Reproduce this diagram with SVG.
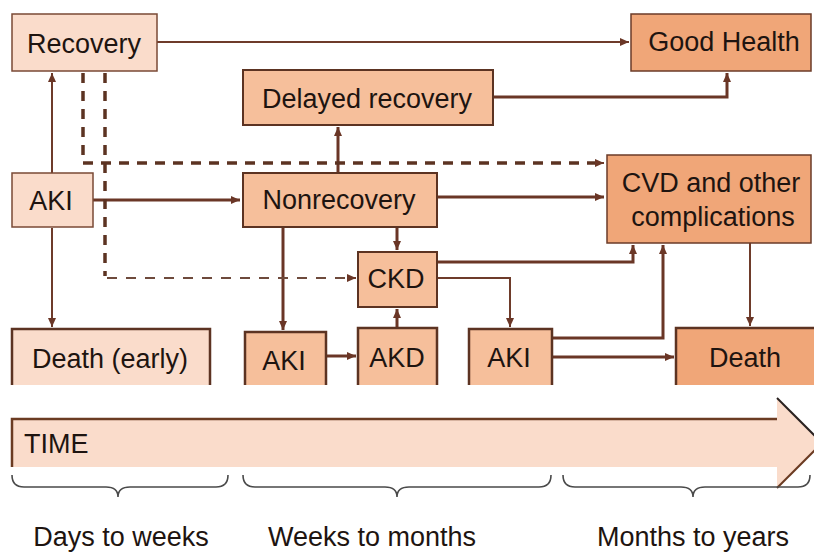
<svg xmlns="http://www.w3.org/2000/svg" width="814" height="552" viewBox="0 0 814 552">
<style>
  text { font-family: "Liberation Sans", Arial, sans-serif; font-size: 27px; fill: #1e1410; text-anchor: middle; }
  .light { fill: #fadccb; stroke: #7a4a36; stroke-width: 1.5; }
  .mid { fill: #f6bf9b; stroke: #5c3322; stroke-width: 2; }
  .dark { fill: #f0a678; stroke: #6b3b28; stroke-width: 1.5; }
  .fillonly { stroke: none; }
  .edge { fill: none; stroke: #5c3322; stroke-width: 2.5; }
  .c { fill: none; stroke: #6e3b2a; stroke-width: 2; }
  .c3 { fill: none; stroke: #6a3626; stroke-width: 3; }
  .dash { fill: none; stroke: #5c3322; stroke-width: 3.5; stroke-dasharray: 10 8; }
  .dashthin { fill: none; stroke: #6e4a3c; stroke-width: 2; stroke-dasharray: 10 9; }
  .brace { fill: none; stroke: #4a4a4a; stroke-width: 1.6; }
</style>
<defs>
  <marker id="ah" markerUnits="userSpaceOnUse" markerWidth="10" markerHeight="10" refX="9" refY="5" orient="auto">
    <path d="M0,1 L9,5 L0,9 Z" fill="#6a3626"/>
  </marker>
</defs>
<rect width="814" height="552" fill="#ffffff"/>

<g id="connectors">
  <path class="c" d="M157,42 H629" marker-end="url(#ah)"/>
  <path class="c" d="M52,173 V73" marker-end="url(#ah)"/>
  <path class="c" d="M52,228 V327" marker-end="url(#ah)"/>
  <path class="c3" d="M93,200 H240" marker-end="url(#ah)"/>
  <path class="c3" d="M338,173 V127" marker-end="url(#ah)"/>
  <path class="c3" d="M493,97 H727 V73" marker-end="url(#ah)"/>
  <path class="c3" d="M437,197 H604" marker-end="url(#ah)"/>
  <path class="c3" d="M397,228 V250" marker-end="url(#ah)"/>
  <path class="c3" d="M283,228 V330" marker-end="url(#ah)"/>
  <path class="c3" d="M325,356 H356" marker-end="url(#ah)"/>
  <path class="c3" d="M397,330 V309" marker-end="url(#ah)"/>
  <path class="c3" d="M437,262 H633 V245" marker-end="url(#ah)"/>
  <path class="c" d="M437,278 H510 V327" marker-end="url(#ah)"/>
  <path class="c3" d="M552,338 H663 V245" marker-end="url(#ah)"/>
  <path class="c3" d="M552,357 H674" marker-end="url(#ah)"/>
  <path class="c" d="M750,243 V326" marker-end="url(#ah)"/>
  <path class="dash" d="M83,73 V163 H600"/>
  <path class="c" d="M598,163 H604" marker-end="url(#ah)"/>
  <path class="dash" d="M105,73 V276"/>
  <path class="dashthin" d="M107,278 H350"/>
  <path class="c" d="M348,278 H356" marker-end="url(#ah)"/>
</g>

<g id="recovery">
  <rect class="light" x="12" y="14" width="145" height="57"/>
  <text x="84" y="53">Recovery</text>
</g>
<g id="good-health">
  <rect class="dark" x="631" y="14" width="180" height="57"/>
  <text x="724" y="51">Good Health</text>
</g>
<g id="delayed-recovery">
  <rect class="mid" x="243" y="70" width="250" height="55"/>
  <text x="367" y="108">Delayed recovery</text>
</g>
<g id="aki-early">
  <rect class="light" x="12" y="173" width="81" height="54"/>
  <text x="51" y="210">AKI</text>
</g>
<g id="nonrecovery">
  <rect class="mid" x="243" y="173" width="194" height="54"/>
  <text x="339" y="209">Nonrecovery</text>
</g>
<g id="cvd">
  <rect class="dark" x="607" y="155" width="204" height="88"/>
  <text x="711" y="192">CVD and other</text>
  <text x="713" y="226">complications</text>
</g>
<g id="ckd">
  <rect class="mid" x="358" y="252" width="79" height="55"/>
  <text x="396" y="288">CKD</text>
</g>
<g id="death-early">
  <rect class="light fillonly" x="12" y="329" width="198" height="56"/>
  <path class="edge" d="M12,385 V329 H210 V385"/>
  <text x="110" y="368">Death (early)</text>
</g>
<g id="aki-mid">
  <rect class="mid fillonly" x="245" y="332" width="81" height="53"/>
  <path class="edge" d="M245,385 V332 H326 V385"/>
  <text x="284" y="370">AKI</text>
</g>
<g id="akd">
  <rect class="mid fillonly" x="358" y="328" width="79" height="57"/>
  <path class="edge" d="M358,385 V328 H437 V385"/>
  <text x="397" y="367">AKD</text>
</g>
<g id="aki-late">
  <rect class="mid fillonly" x="469" y="329" width="83" height="56"/>
  <path class="edge" d="M469,385 V329 H552 V385"/>
  <text x="509" y="367">AKI</text>
</g>
<g id="death">
  <rect class="dark fillonly" x="676" y="328" width="138" height="57"/>
  <path class="edge" d="M676,385 V328 H814"/>
  <text x="745" y="367">Death</text>
</g>

<g id="time-arrow">
  <path d="M12,419 H777 V398 L822,443 L777,488 V467 H12 Z" fill="#fadccb"/>
  <path d="M12,467 V419 H777" fill="none" stroke="#6b3b22" stroke-width="2.5"/>
  <path d="M777,398 L822,443" fill="none" stroke="#2a2220" stroke-width="2"/>
  <path d="M777,488 L822,443" fill="none" stroke="#6b3b22" stroke-width="2"/>
  <text x="24" y="453" style="text-anchor:start">TIME</text>
</g>

<g id="braces">
  <path class="brace" d="M12,475 Q12,487 24,487 H106 Q118,487 118,497 Q118,487 130,487 H216 Q228,487 228,475"/>
  <path class="brace" d="M243,475 Q243,487 255,487 H385 Q397,487 397,497 Q397,487 409,487 H539 Q551,487 551,475"/>
  <path class="brace" d="M563,475 Q563,487 575,487 H681 Q693,487 693,497 Q693,487 705,487 H798 Q810,487 810,475"/>
  <text x="121" y="546">Days to weeks</text>
  <text x="372" y="546">Weeks to months</text>
  <text x="693" y="546">Months to years</text>
</g>
</svg>
